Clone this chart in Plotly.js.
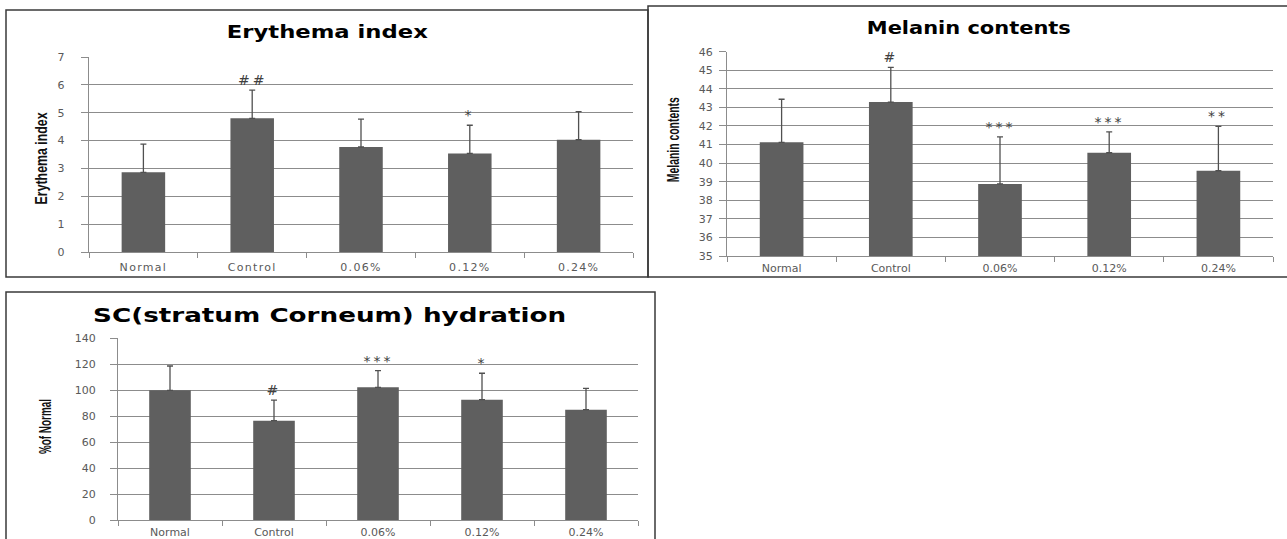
<!DOCTYPE html>
<html>
<head>
<meta charset="utf-8">
<script src="https://cdn.plot.ly/plotly-3.0.1.min.js"></script>
<style>
  html, body { margin: 0; padding: 0; background: #fff; }
  #chart { width: 1287px; height: 539px; }
  .xtick text, .ytick text { letter-spacing: 1.3px; }
  g.annotation.sig-mark text { letter-spacing: 3px; }
</style>
</head>
<body>
<div id="chart"></div>
<script>
// Treatment groups shared by all three panels
const categories = ['Normal', 'Control', '0.06%', '0.12%', '0.24%'];

// Erythema index (mean, upper SD, significance marks)
const erythemaMean = [2.86, 4.80, 3.77, 3.54, 4.03];
const erythemaSD   = [1.01, 1.01, 1.00, 1.01, 1.01];
const erythemaSig  = ['', '##', '', '*', ''];

// Melanin contents
const melaninMean = [41.12, 43.29, 38.88, 40.56, 39.59];
const melaninSD   = [2.32, 1.87, 2.53, 1.12, 2.39];
const melaninSig  = ['', '#', '***', '***', '**'];

// SC (stratum corneum) hydration, % of Normal
const hydrationMean = [100, 76.6, 102.3, 92.8, 85.1];
const hydrationSD   = [18.7, 15.9, 12.8, 20.3, 16.4];
const hydrationSig  = ['', '#', '***', '*', ''];

const W = 1287, H = 539;
const px = v => v / W;          // pixel -> paper x
const py = v => 1 - v / H;      // pixel -> paper y

const BAR_COLOR = '#5f5f5f';
const GRID_COLOR = '#8c8c8c';
const TICK_FONT = { family: 'DejaVu Sans, sans-serif', size: 11, color: '#595959' };

// Panel layout (pixel geometry) paired with each data set
const panels = [
  {
    title: 'Erythema index', titleSize: 17, titleX: 327, titleY: 32, titleLen: 201,
    yTitle: 'Erythema index', yTitleX: 42, yTitleY: 159, yTitleLen: 92,
    mean: erythemaMean, sd: erythemaSD, sig: erythemaSig,
    range: [0, 7], dtick: 1,
    plot: { l: 89, r: 633, t: 57, b: 252 },
    box: { l: 6, r: 648, t: 10, b: 277 },
    yStandoff: 13, xStandoff: 5
  },
  {
    title: 'Melanin contents', titleSize: 17, titleX: 969, titleY: 28, titleLen: 204,
    yTitle: 'Melanin contents', yTitleX: 673, yTitleY: 140, yTitleLen: 85,
    mean: melaninMean, sd: melaninSD, sig: melaninSig,
    range: [35, 46], dtick: 1,
    plot: { l: 727, r: 1273, t: 51.7, b: 256 },
    box: { l: 648, r: 1292, t: 6, b: 277 },
    yStandoff: 4, xStandoff: 2
  },
  {
    title: 'SC(stratum Corneum) hydration', titleSize: 19, titleX: 330, titleY: 315, titleLen: 473,
    yTitle: '%of Normal', yTitleX: 45, yTitleY: 427, yTitleLen: 55,
    mean: hydrationMean, sd: hydrationSD, sig: hydrationSig,
    range: [0, 140], dtick: 20,
    plot: { l: 118, r: 638, t: 338.3, b: 520.3 },
    box: { l: 6, r: 655, t: 292, b: 548 },
    yStandoff: 12, xStandoff: 1
  }
];

const data = [];
const layout = {
  width: W, height: H,
  margin: { l: 0, r: 0, t: 0, b: 0 },
  paper_bgcolor: '#ffffff',
  plot_bgcolor: '#ffffff',
  showlegend: false,
  bargap: 0.6,
  annotations: [],
  shapes: []
};
// per-annotation finishing touches applied to the rendered SVG text
const annExtras = [];

panels.forEach((p, i) => {
  const n = i === 0 ? '' : String(i + 1);
  const xa = 'x' + n, ya = 'y' + n;

  data.push({
    type: 'bar',
    x: categories,
    y: p.mean,
    xaxis: xa, yaxis: ya,
    marker: { color: BAR_COLOR, line: { width: 0 } },
    error_y: {
      type: 'data', symmetric: false,
      array: p.sd, arrayminus: p.sd.map(() => 0),
      color: '#505050', thickness: 1.3, width: 3
    },
    hoverinfo: 'skip'
  });

  layout['xaxis' + n] = {
    domain: [px(p.plot.l), px(p.plot.r)],
    anchor: ya,
    type: 'category',
    range: [-0.5, 4.5],
    showline: true, linecolor: GRID_COLOR, linewidth: 1,
    ticks: 'outside', tickson: 'boundaries', ticklen: 5, tickcolor: GRID_COLOR,
    ticklabelstandoff: p.xStandoff,
    showgrid: false, zeroline: false,
    tickfont: TICK_FONT
  };
  layout['yaxis' + n] = {
    domain: [py(p.plot.b), py(p.plot.t)],
    anchor: xa,
    range: p.range, dtick: p.dtick,
    showline: true, linecolor: GRID_COLOR, linewidth: 1,
    ticks: 'outside', ticklen: 7, tickcolor: GRID_COLOR,
    ticklabelstandoff: p.yStandoff,
    showgrid: true, gridcolor: GRID_COLOR, gridwidth: 1,
    zeroline: false,
    tickfont: TICK_FONT
  };

  // panel frame
  layout.shapes.push({
    type: 'rect', xref: 'paper', yref: 'paper',
    x0: px(p.box.l), x1: px(p.box.r), y0: py(p.box.b), y1: py(p.box.t),
    line: { color: '#3a3a3a', width: 1.5 }, fillcolor: 'rgba(0,0,0,0)'
  });

  // panel title, set wide
  layout.annotations.push({
    text: '<b>' + p.title + '</b>', xref: 'paper', yref: 'paper',
    x: px(p.titleX), y: py(p.titleY), xanchor: 'center', yanchor: 'middle',
    showarrow: false,
    font: { family: 'DejaVu Sans, sans-serif', size: p.titleSize, color: '#000' }
  });
  annExtras.push({ len: p.titleLen, adjust: 'spacingAndGlyphs' });

  // y-axis title, set narrow
  layout.annotations.push({
    text: '<b>' + p.yTitle + '</b>', xref: 'paper', yref: 'paper',
    x: px(p.yTitleX), y: py(p.yTitleY), xanchor: 'center', yanchor: 'middle',
    textangle: -90, showarrow: false,
    font: { family: 'Liberation Sans, Arial, sans-serif', size: 16, color: '#111' }
  });
  annExtras.push({ len: p.yTitleLen, adjust: 'spacingAndGlyphs' });

  // significance marks just above each error bar
  p.sig.forEach((s, k) => {
    if (!s) return;
    layout.annotations.push({
      text: s, xref: xa, yref: ya,
      x: categories[k], y: p.mean[k] + p.sd[k],
      xanchor: 'center', yanchor: 'bottom',
      showarrow: false,
      font: { family: 'DejaVu Sans, sans-serif', size: 14, color: '#404040' }
    });
    annExtras.push({ cls: 'sig-mark' });
  });
});

Plotly.newPlot('chart', data, layout, { staticPlot: true, displayModeBar: false }).then(gd => {
  gd.querySelectorAll('g.annotation').forEach(g => {
    const extra = annExtras[+g.getAttribute('data-index')];
    if (!extra) return;
    if (extra.cls) g.classList.add(extra.cls);
    if (extra.len) {
      const t = g.querySelector('text.annotation-text');
      if (t) {
        t.setAttribute('textLength', extra.len);
        t.setAttribute('lengthAdjust', extra.adjust);
      }
    }
  });
});
</script>
</body>
</html>
